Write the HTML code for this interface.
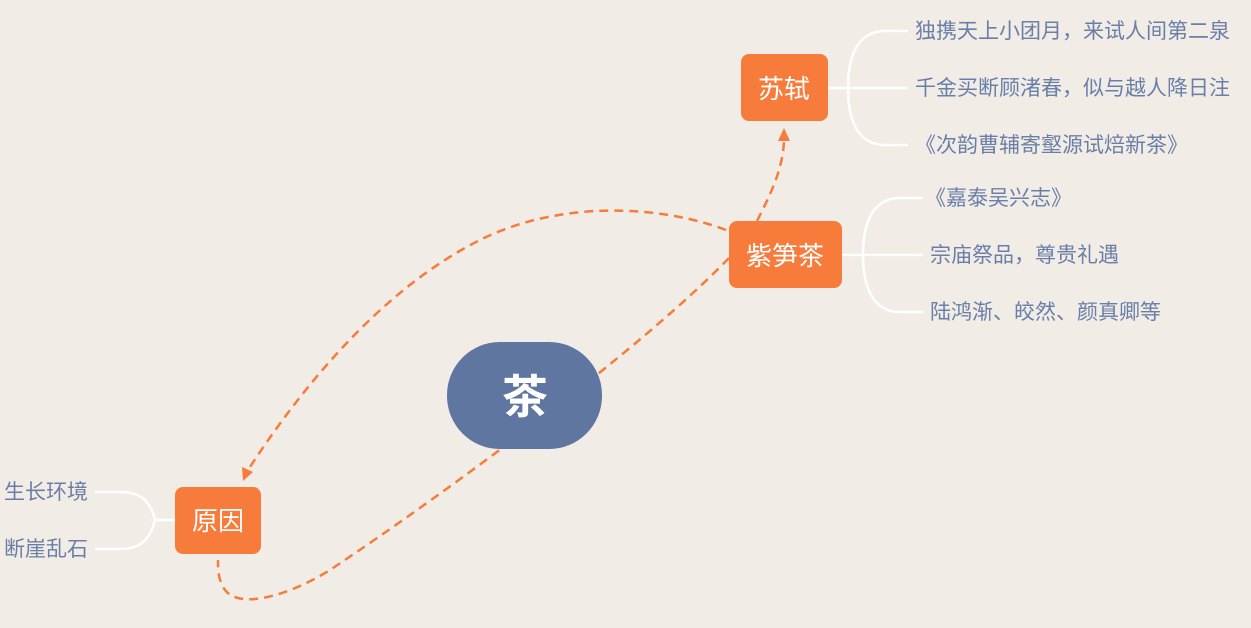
<!DOCTYPE html>
<html><head><meta charset="utf-8"><style>
body{margin:0;background:#f1ece6;}
svg{display:block}
text{font-family:"Liberation Sans","Noto Sans CJK SC",sans-serif;}
</style></head><body>
<svg width="1251" height="628" viewBox="0 0 1251 628">
<rect width="1251" height="628" fill="#f1ece6"/>
<g fill="none" stroke="#f77b3a" stroke-width="2.5" stroke-dasharray="9,6">
<path d="M757,221 C770,195 783,170 784,140"/>
<path d="M726,230 C660,205 560,200 480,240 C380,290 300,390 248,470"/>
<path d="M729,258 C640,350 450,490 330,570 C290,595 240,610 225,590 C218,580 218,570 218,560"/>
</g>
<polygon points="784,128 778,141 790,141" fill="#f77b3a"/>
<polygon points="243,481 242,467 253,472" fill="#f77b3a"/>
<g fill="none" stroke="#ffffff" stroke-width="2.5">
<path d="M828,88 H908"/>
<path d="M848,88 C848,45 865,31 885,31 H908"/>
<path d="M848,88 C848,131 865,145 885,145 H908"/>
<path d="M842,255 H923"/>
<path d="M863,255 C863,212 880,198 900,198 H923"/>
<path d="M863,255 C863,298 880,312 900,312 H923"/>
<path d="M175,520 H155"/>
<path d="M155,520 C150,500 140,492 120,492 H95"/>
<path d="M155,520 C150,540 140,549 120,549 H95"/>
</g>
<rect x="741" y="54" width="87" height="67" rx="8" fill="#f77b3a"/>
<rect x="729" y="221" width="113" height="67" rx="8" fill="#f77b3a"/>
<rect x="175" y="487" width="86" height="67" rx="8" fill="#f77b3a"/>
<rect x="447" y="342" width="155" height="107" rx="53" fill="#5f77a0"/>
<g fill="#fff" text-anchor="middle" font-size="26">
<text x="784" y="98">苏轼</text>
<text x="785" y="265">紫笋茶</text>
<text x="218" y="530">原因</text>
<text x="525" y="413" font-size="46" font-weight="bold">茶</text>
</g>
<g fill="#6a7fa8" font-size="21">
<text x="915" y="38" textLength="315">独携天上小团月，来试人间第二泉</text>
<text x="915" y="95" textLength="315">千金买断顾渚春，似与越人降日注</text>
<text x="915" y="152">《次韵曹辅寄壑源试焙新茶》</text>
<text x="925" y="205">《嘉泰吴兴志》</text>
<text x="930" y="262">宗庙祭品，尊贵礼遇</text>
<text x="930" y="319">陆鸿渐、皎然、颜真卿等</text>
<text x="88" y="499" text-anchor="end">生长环境</text>
<text x="88" y="556" text-anchor="end">断崖乱石</text>
</g>
</svg>
</body></html>
